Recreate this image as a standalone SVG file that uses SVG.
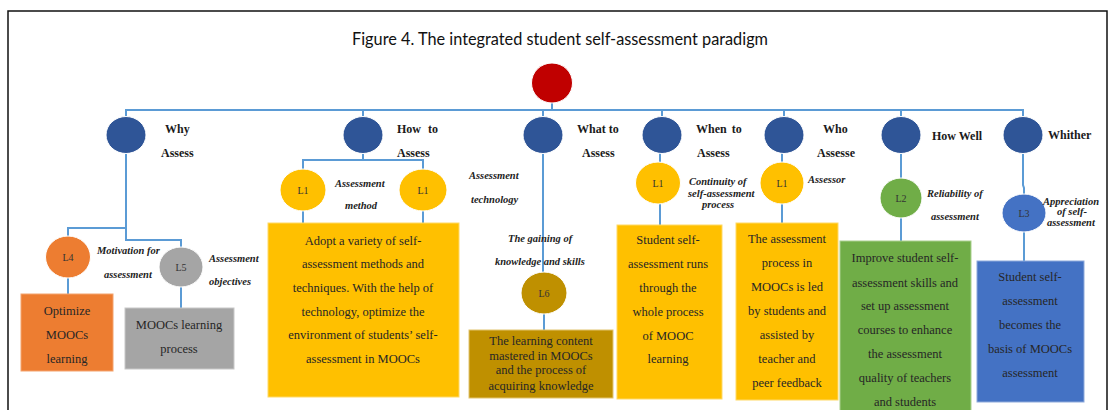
<svg xmlns="http://www.w3.org/2000/svg" width="1109" height="410" viewBox="0 0 1109 410">
<style>
.lbl{font-family:"Liberation Serif",serif;font-weight:bold;font-size:12px;fill:#1a1a1a}
.it{font-family:"Liberation Serif",serif;font-weight:bold;font-style:italic;font-size:10.5px;fill:#222}
.lv{font-family:"Liberation Serif",serif;font-size:10px;fill:#333;text-anchor:middle}
.bt{font-family:"Liberation Serif",serif;font-size:12.5px;fill:#262626;text-anchor:middle}
.con{fill:none;stroke:#5B9BD5;stroke-width:2}
.top{fill:#2F5597;stroke:#fff;stroke-width:1}
</style>
<rect width="1109" height="410" fill="#fff"/>
<path d="M8,410 V11 H1107 V410" fill="none" stroke="#111" stroke-width="1.5"/>
<text x="560" y="45" text-anchor="middle" font-family="Lato, 'Open Sans', sans-serif" font-size="17" fill="#111" textLength="416" lengthAdjust="spacingAndGlyphs">Figure 4. The integrated student self-assessment paradigm</text>

<g id="connectors" class="con">
<path d="M552,103 V110"/>
<path d="M126,117 V110 H1023 V117"/>
<path d="M363,110 V117 M543,110 V117 M662,110 V117 M784,110 V117 M901,110 V117"/>
<path d="M126,153 V240 H181 V247 M126,228 H68 V236"/>
<path d="M68,278 V294 M181,287 V308"/>
<path d="M363,153 V160 M303,169 V160 H423 V169"/>
<path d="M303,211 V223 M423,211 V223"/>
<path d="M543,153 V272 M544,314 V330"/>
<path d="M660,153 V162 M660,204 V225"/>
<path d="M782,153 V162 M782,204 V223"/>
<path d="M901,153 V178 M901,218 V241"/>
<path d="M1023,153 V185 L1024,188 V194 M1024,232 V261"/>
</g>

<g id="root"><ellipse cx="552" cy="83" rx="20.5" ry="20" fill="#C00000" stroke="#fff"/></g>

<g id="why">
<ellipse class="top" cx="126" cy="135" rx="20" ry="18.5"/>
<text class="lbl" x="165" y="133">Why</text>
<text class="lbl" x="161" y="157">Assess</text>
</g>
<g id="howto">
<ellipse class="top" cx="363" cy="135" rx="20" ry="18.5"/>
<text class="lbl" x="397" y="133" word-spacing="4">How to</text>
<text class="lbl" x="397" y="157">Assess</text>
</g>
<g id="whatto">
<ellipse class="top" cx="543" cy="135" rx="20" ry="18.5"/>
<text class="lbl" x="577" y="133">What to</text>
<text class="lbl" x="582" y="157">Assess</text>
</g>
<g id="whento">
<ellipse class="top" cx="662" cy="135" rx="20" ry="18.5"/>
<text class="lbl" x="696" y="133" word-spacing="2">When to</text>
<text class="lbl" x="697" y="157">Assess</text>
</g>
<g id="who">
<ellipse class="top" cx="784" cy="135" rx="20" ry="18.5"/>
<text class="lbl" x="823" y="133">Who</text>
<text class="lbl" x="817" y="157">Assesse</text>
</g>
<g id="howwell">
<ellipse class="top" cx="901" cy="135" rx="20" ry="18.5"/>
<text class="lbl" x="932" y="140">How Well</text>
</g>
<g id="whither">
<ellipse class="top" cx="1023" cy="135" rx="20" ry="18.5"/>
<text class="lbl" x="1048" y="139" font-size="13">Whither</text>
</g>

<g id="L4">
<ellipse cx="68" cy="257" rx="22.5" ry="21" fill="#ED7D31" stroke="#fff"/>
<text class="lv" x="68" y="261">L4</text>
<text class="it" x="97" y="254">Motivation for</text>
<text class="it" x="104" y="278">assessment</text>
<rect x="21" y="294" width="92" height="77" fill="#ED7D31" stroke="#f4a36e"/>
<text class="bt" x="67" y="315">Optimize</text>
<text class="bt" x="67" y="339">MOOCs</text>
<text class="bt" x="67" y="363">learning</text>
</g>
<g id="L5">
<ellipse cx="181" cy="267" rx="22" ry="20" fill="#A5A5A5" stroke="#fff"/>
<text class="lv" x="181" y="271">L5</text>
<text class="it" x="209" y="262">Assessment</text>
<text class="it" x="209" y="285">objectives</text>
<rect x="125" y="308" width="109" height="61" fill="#A5A5A5" stroke="#c8c8c8"/>
<text class="bt" x="179" y="329">MOOCs learning</text>
<text class="bt" x="179" y="353">process</text>
</g>
<g id="L1-how">
<ellipse cx="303" cy="190" rx="23" ry="21" fill="#FFC000" stroke="#fff"/>
<text class="lv" x="303" y="194">L1</text>
<ellipse cx="423" cy="190" rx="24" ry="21" fill="#FFC000" stroke="#fff"/>
<text class="lv" x="423" y="194">L1</text>
<text class="it" x="335" y="187">Assessment</text>
<text class="it" x="345" y="209">method</text>
<text class="it" x="469" y="179">Assessment</text>
<text class="it" x="471" y="203">technology</text>
<rect x="268" y="223" width="191" height="174" fill="#FFC000" stroke="#ffd966"/>
<text class="bt" x="363" y="245">Adopt a variety of self-</text>
<text class="bt" x="363" y="268">assessment methods and</text>
<text class="bt" x="363" y="292">techniques. With the help of</text>
<text class="bt" x="363" y="316">technology, optimize the</text>
<text class="bt" x="363" y="339">environment of students’ self-</text>
<text class="bt" x="363" y="363">assessment in MOOCs</text>
</g>
<g id="L6">
<text class="it" x="508" y="242">The gaining of</text>
<text class="it" x="495" y="265">knowledge and skills</text>
<ellipse cx="544" cy="293" rx="23" ry="21" fill="#BF9000" stroke="#fff"/>
<text class="lv" x="544" y="297">L6</text>
<rect x="469" y="330" width="144" height="68" fill="#BF9000" stroke="#e2c46e"/>
<text class="bt" x="541" y="345">The learning content</text>
<text class="bt" x="541" y="360">mastered in MOOCs</text>
<text class="bt" x="541" y="374">and the process of</text>
<text class="bt" x="541" y="390">acquiring knowledge</text>
</g>
<g id="L1-when">
<ellipse cx="658" cy="183" rx="22.5" ry="21" fill="#FFC000" stroke="#fff"/>
<text class="lv" x="658" y="187">L1</text>
<text class="it" x="689" y="185">Continuity of</text>
<text class="it" x="688" y="197">self-assessment</text>
<text class="it" x="702" y="208">process</text>
<rect x="617" y="225" width="105" height="174" fill="#FFC000" stroke="#ffd966"/>
<text class="bt" x="668" y="244">Student self-</text>
<text class="bt" x="668" y="268">assessment runs</text>
<text class="bt" x="668" y="292">through the</text>
<text class="bt" x="668" y="316">whole process</text>
<text class="bt" x="668" y="340">of MOOC</text>
<text class="bt" x="668" y="363">learning</text>
</g>
<g id="L1-who">
<ellipse cx="782" cy="183" rx="22" ry="21" fill="#FFC000" stroke="#fff"/>
<text class="lv" x="782" y="187">L1</text>
<text class="it" x="808" y="183">Assessor</text>
<rect x="736" y="223" width="102" height="177" fill="#FFC000" stroke="#ffd966"/>
<text class="bt" x="787" y="243">The assessment</text>
<text class="bt" x="787" y="267">process in</text>
<text class="bt" x="787" y="291">MOOCs is led</text>
<text class="bt" x="787" y="315">by students and</text>
<text class="bt" x="787" y="339">assisted by</text>
<text class="bt" x="787" y="363">teacher and</text>
<text class="bt" x="787" y="387">peer feedback</text>
</g>
<g id="L2">
<ellipse cx="901" cy="198" rx="21" ry="20" fill="#70AD47" stroke="#fff"/>
<text class="lv" x="901" y="202">L2</text>
<text class="it" x="927" y="197">Reliability of</text>
<text class="it" x="931" y="220">assessment</text>
<rect x="840" y="241" width="131" height="175" fill="#70AD47" stroke="#a9d08e"/>
<text class="bt" x="905" y="262">Improve student self-</text>
<text class="bt" x="905" y="287">assessment skills and</text>
<text class="bt" x="905" y="310">set up assessment</text>
<text class="bt" x="905" y="334">courses to enhance</text>
<text class="bt" x="905" y="358">the assessment</text>
<text class="bt" x="905" y="382">quality of teachers</text>
<text class="bt" x="905" y="406">and students</text>
</g>
<g id="L3">
<ellipse cx="1024" cy="213" rx="22" ry="19" fill="#4472C4" stroke="#fff"/>
<text class="lv" x="1024" y="217">L3</text>
<text class="it" x="1043" y="205">Appreciation</text>
<text class="it" x="1057" y="215">of self-</text>
<text class="it" x="1047" y="226">assessment</text>
<rect x="977" y="261" width="107" height="141" fill="#4472C4" stroke="#8eaadb"/>
<text class="bt" x="1030" y="281">Student self-</text>
<text class="bt" x="1030" y="305">assessment</text>
<text class="bt" x="1030" y="329">becomes the</text>
<text class="bt" x="1030" y="353">basis of MOOCs</text>
<text class="bt" x="1030" y="377">assessment</text>
</g>
</svg>
